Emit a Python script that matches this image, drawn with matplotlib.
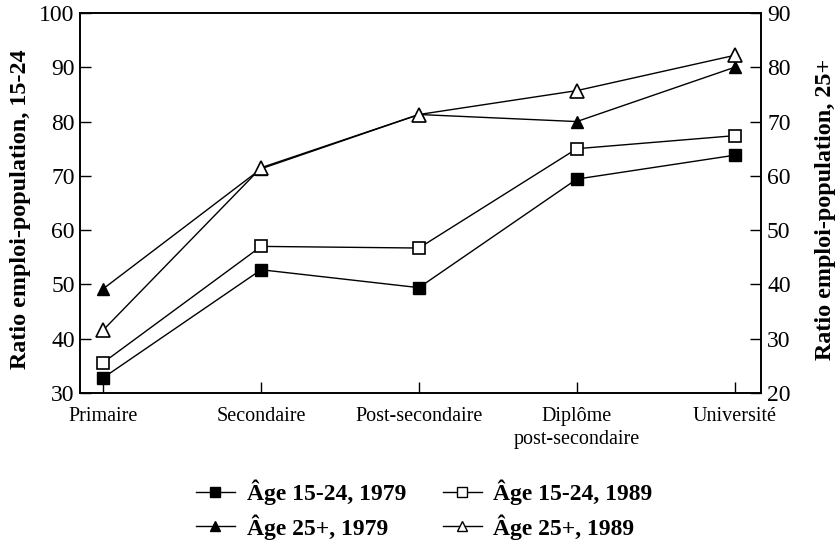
import matplotlib
matplotlib.use("Agg")
import matplotlib.pyplot as plt
from matplotlib.lines import Line2D

categories = ["Primaire", "Secondaire", "Post-secondaire", "Diplôme\npost-secondaire", "Université"]

# Ratio emploi-population, 15-24 (axe de gauche)
jeunes_1979 = [32.8, 52.7, 49.4, 69.4, 73.8]
jeunes_1989 = [35.6, 57.0, 56.7, 75.0, 77.4]
# Ratio emploi-population, 25+ (axe de droite)
adultes_1979 = [39.2, 61.3, 71.3, 70.0, 80.0]
adultes_1989 = [31.6, 61.5, 71.3, 75.7, 82.2]

plt.rcParams['font.family'] = ['Liberation Serif', 'DejaVu Serif']

fig = plt.figure(figsize=(8.4, 5.42), dpi=100)
ax = fig.add_axes([0.0955, 0.275, 0.811, 0.701])
ax2 = ax.twinx()

x = list(range(len(categories)))
ax.plot(x, jeunes_1979, color='black', lw=1.0, marker='s', ms=9, mfc='black', mec='black', zorder=3)
ax.plot(x, jeunes_1989, color='black', lw=1.0, marker='s', ms=9, mfc='white', mec='black', mew=1.2, zorder=3)
ax2.plot(x, adultes_1979, color='black', lw=1.0, marker='^', ms=9, mfc='black', mec='black', zorder=3)
ax2.plot(x, adultes_1989, color='black', lw=1.0, marker='^', ms=10, mfc='white', mec='black', mew=1.2, zorder=4)

ax.set_xlim(-0.146, 4.17)
ax.set_ylim(30, 100)
ax2.set_ylim(20, 90)
ax.set_yticks(range(30, 101, 10))
ax2.set_yticks(range(20, 91, 10))
ax.set_xticks(x)
ax.set_xticklabels(categories, linespacing=1.3)

for a in (ax, ax2):
    a.tick_params(direction='in', length=8, width=1.0, labelsize=17, pad=4)
    for s in a.spines.values():
        s.set_linewidth(1.2)
ax.tick_params(axis='x', pad=10, labelsize=14.5)

ax.set_ylabel("Ratio emploi-population, 15-24", fontsize=17.4, fontweight='bold')
ax2.set_ylabel("Ratio emploi-population, 25+", fontsize=17.4, fontweight='bold')
ax.yaxis.set_label_coords(-0.072, 0.483)
ax2.yaxis.set_label_coords(1.079, 0.483)

handles = [
    Line2D([], [], color='black', lw=1.0, marker='s', ms=7, mfc='black', mec='black'),
    Line2D([], [], color='black', lw=1.0, marker='^', ms=7, mfc='black', mec='black'),
    Line2D([], [], color='black', lw=1.0, marker='s', ms=7, mfc='white', mec='black'),
    Line2D([], [], color='black', lw=1.0, marker='^', ms=7, mfc='white', mec='black'),
]
labels = ["Âge 15-24, 1979", "Âge 25+, 1979", "Âge 15-24, 1989", "Âge 25+, 1989"]
fig.legend(handles, labels, loc='lower center', bbox_to_anchor=(0.505, -0.035), ncol=2,
           frameon=False, prop={'weight': 'bold', 'size': 17}, handlelength=1.65,
           columnspacing=1.55, handletextpad=0.5, labelspacing=0.4)

fig.savefig("out.png", dpi=100)
